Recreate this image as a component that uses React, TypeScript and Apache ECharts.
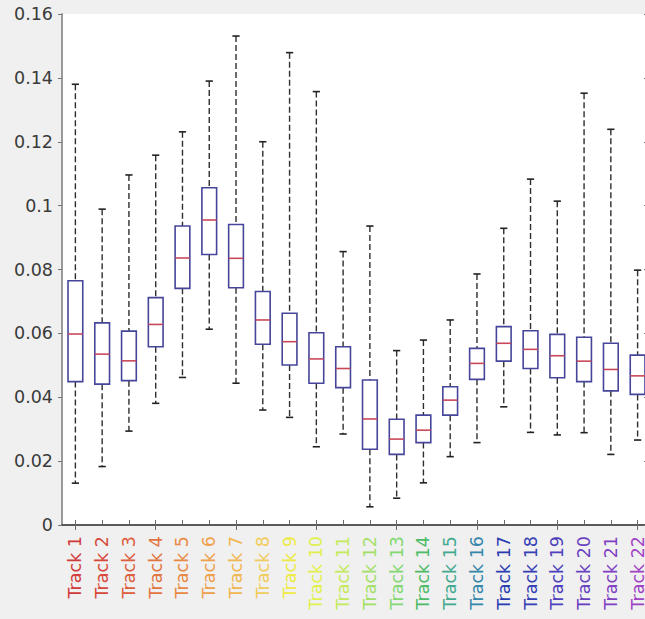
import React, { useEffect, useRef } from "react";
import * as echarts from "echarts";

const categories = [
  "Track 1", "Track 2", "Track 3", "Track 4", "Track 5", "Track 6", "Track 7", "Track 8",
  "Track 9", "Track 10", "Track 11", "Track 12", "Track 13", "Track 14", "Track 15", "Track 16",
  "Track 17", "Track 18", "Track 19", "Track 20", "Track 21", "Track 22",
];

const labelColors = [
  "#d23a3a", "#d6483a", "#dc5e3c", "#e27440", "#e88a44", "#eea04c", "#f0b650", "#f0cc5c",
  "#eeea44", "#e2f04e", "#c4ea5c", "#a4e068", "#84d872", "#4cbc66", "#42aa8e", "#3486aa",
  "#2a3cb2", "#3440b4", "#4e40bc", "#6840c0", "#8040c2", "#a042c6",
];

const whiskerLow = [
  0.0131, 0.0183, 0.0294, 0.0381, 0.0462, 0.0613, 0.0444, 0.036, 0.0337, 0.0245, 0.0285,
  0.0057, 0.0084, 0.0132, 0.0214, 0.0258, 0.037, 0.029, 0.0282, 0.0289, 0.0221, 0.0266,
];
const quartile1 = [
  0.0449, 0.0441, 0.0452, 0.0558, 0.0741, 0.0847, 0.0743, 0.0566, 0.0501, 0.0444, 0.043,
  0.0237, 0.0221, 0.0258, 0.0344, 0.0456, 0.0513, 0.049, 0.0461, 0.0449, 0.042, 0.0409,
];
const medians = [
  0.0598, 0.0535, 0.0514, 0.0628, 0.0836, 0.0955, 0.0835, 0.0642, 0.0574, 0.052, 0.049,
  0.0332, 0.0269, 0.0297, 0.0391, 0.0506, 0.0569, 0.055, 0.053, 0.0513, 0.0487, 0.0467,
];
const quartile3 = [
  0.0765, 0.0633, 0.0607, 0.0712, 0.0936, 0.1056, 0.0941, 0.0731, 0.0663, 0.0602, 0.0558,
  0.0454, 0.0331, 0.0344, 0.0433, 0.0553, 0.0621, 0.0608, 0.0597, 0.0588, 0.0569, 0.0532,
];
const whiskerHigh = [
  0.138, 0.0989, 0.1096, 0.1158, 0.1231, 0.139, 0.1531, 0.12, 0.1479, 0.1357, 0.0856,
  0.0936, 0.0546, 0.0579, 0.0642, 0.0786, 0.0929, 0.1083, 0.1014, 0.1352, 0.1239, 0.0798,
];

const yTicks = { min: 0, max: 0.16, interval: 0.02 };

export default function App() {
  const ref = useRef<HTMLDivElement>(null);

  useEffect(() => {
    if (!ref.current) return;
    const chart = echarts.init(ref.current, undefined, { renderer: "svg" });

    const data = categories.map((_, i) => [
      i, whiskerLow[i], quartile1[i], medians[i], quartile3[i], whiskerHigh[i],
    ]);

    const font = "DejaVu Sans";

    const option: any = {
      animation: false,
      backgroundColor: "#f0f0f0",
      grid: {
        left: 62,
        right: 1,
        top: 14,
        bottom: 94,
        show: true,
        backgroundColor: "#ffffff",
        borderWidth: 0,
      },
      xAxis: [
        {
          type: "category",
          data: categories.map((c, i) => ({ value: c, textStyle: { color: labelColors[i] } })),
          boundaryGap: true,
          position: "bottom",
          axisLine: { show: true, lineStyle: { color: "#6a6a6a", width: 1.5 } },
          axisTick: { show: true, inside: true, alignWithLabel: true, length: 5, lineStyle: { color: "#6a6a6a" } },
          axisLabel: {
            rotate: 90,
            margin: 11,
            fontFamily: font,
            fontSize: 17.5,
            interval: 0,
          },
          splitLine: { show: false },
        },
        {
          type: "category",
          data: categories,
          boundaryGap: true,
          position: "top",
          axisLine: { show: true, lineStyle: { color: "#5a5a5a", width: 1.8 } },
          axisTick: { show: true, inside: true, alignWithLabel: true, length: 5, lineStyle: { color: "#6a6a6a" } },
          axisLabel: { show: false },
          splitLine: { show: false },
        },
      ],
      yAxis: [
        {
          type: "value",
          min: yTicks.min,
          max: yTicks.max,
          interval: yTicks.interval,
          position: "left",
          axisLine: { show: true, lineStyle: { color: "#9a9a9a", width: 2 } },
          axisTick: { show: true, inside: false, length: 4, lineStyle: { color: "#777" } },
          axisLabel: { margin: 9, color: "#3a3a3a", fontFamily: font, fontSize: 17.5 },
          splitLine: { show: false },
        },
        {
          type: "value",
          min: yTicks.min,
          max: yTicks.max,
          interval: yTicks.interval,
          position: "right",
          axisLine: { show: true, lineStyle: { color: "#8a8a8a", width: 1.5 } },
          axisTick: { show: true, inside: true, length: 7, lineStyle: { color: "#777" } },
          axisLabel: { show: false },
          splitLine: { show: false },
        },
      ],
      series: [
        {
          type: "custom",
          xAxisIndex: 0,
          yAxisIndex: 0,
          data,
          encode: { x: 0, y: [1, 2, 3, 4, 5] },
          renderItem: (params: any, api: any) => {
            const x = api.value(0);
            const pLo = api.coord([x, api.value(1)]);
            const pQ1 = api.coord([x, api.value(2)]);
            const pMed = api.coord([x, api.value(3)]);
            const pQ3 = api.coord([x, api.value(4)]);
            const pHi = api.coord([x, api.value(5)]);
            const band = api.size([1, 0])[0];
            const bw = band * 0.55;
            const cw = band * 0.27;
            const cx = pMed[0];
            const whiskerStyle = { stroke: "#2e2e2e", lineWidth: 1.4, lineDash: [6, 3] };
            const capStyle = { stroke: "#222222", lineWidth: 1.6 };
            return {
              type: "group",
              children: [
                { type: "line", shape: { x1: cx, y1: pHi[1], x2: cx, y2: pQ3[1] }, style: whiskerStyle },
                { type: "line", shape: { x1: cx, y1: pQ1[1], x2: cx, y2: pLo[1] }, style: whiskerStyle },
                { type: "line", shape: { x1: cx - cw / 2, y1: pHi[1], x2: cx + cw / 2, y2: pHi[1] }, style: capStyle },
                { type: "line", shape: { x1: cx - cw / 2, y1: pLo[1], x2: cx + cw / 2, y2: pLo[1] }, style: capStyle },
                {
                  type: "rect",
                  shape: { x: cx - bw / 2, y: pQ3[1], width: bw, height: pQ1[1] - pQ3[1] },
                  style: { fill: "#ffffff", stroke: "#45459a", lineWidth: 1.6 },
                },
                {
                  type: "line",
                  shape: { x1: cx - bw / 2, y1: pMed[1], x2: cx + bw / 2, y2: pMed[1] },
                  style: { stroke: "#c8485a", lineWidth: 1.6 },
                },
              ],
            };
          },
        },
      ],
    };

    chart.setOption(option);
    return () => chart.dispose();
  }, []);

  return (
    <div
      style={{ position: "absolute", left: 0, top: 0, width: 645, height: 619, background: "#f0f0f0", overflow: "hidden" }}
    >
      <div ref={ref} style={{ width: 652, height: 619 }} />
    </div>
  );
}
